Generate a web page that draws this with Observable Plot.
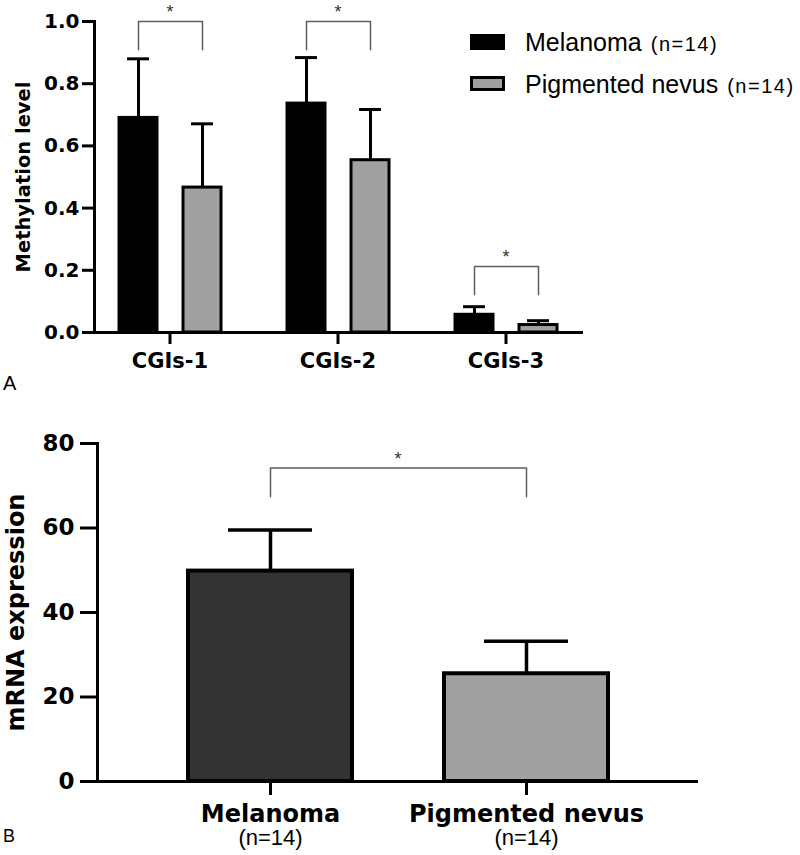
<!DOCTYPE html>
<html>
<head>
<meta charset="utf-8">
<script src="https://cdn.jsdelivr.net/npm/d3@7"></script>
<script src="https://cdn.jsdelivr.net/npm/@observablehq/plot@0.6"></script>
<style>
  html, body { margin: 0; padding: 0; background: #fff; }
  #wrap { position: relative; width: 800px; height: 855px; overflow: hidden; }
  #wrap > div > svg { display: block; }
  #overlay { position: absolute; left: 0; top: 0; pointer-events: none; }
</style>
</head>
<body>
<div id="wrap">
  <div id="panelA"></div>
  <div id="panelB"></div>
</div>
<script>
// ---------- Panel A data ----------
const catsA = ["CGIs-1", "CGIs-2", "CGIs-3"];
const seriesA = ["Melanoma", "Pigmented nevus"];
const nA = [14, 14];
const melMeanA = [0.69, 0.736, 0.057];
const melSdA = [0.19, 0.148, 0.026];
const nevMeanA = [0.466, 0.554, 0.024];
const nevSdA = [0.205, 0.163, 0.014];
const bracketTopA = [1.0, 1.0, 0.212];
const bracketBaseA = [0.909, 0.909, 0.121];
const yTicksA = [0, 0.2, 0.4, 0.6, 0.8, 1.0];

// ---------- Panel B data ----------
const namesB = ["Melanoma", "Pigmented nevus"];
const nB = [14, 14];
const meanB = [49.8, 25.5];
const sdB = [9.7, 7.7];
const bracketTopB = 74.2;
const bracketBaseB = 67.4;
const yTicksB = [0, 20, 40, 60, 80];

// ---------- tables ----------
const rowsA = catsA.flatMap((c, i) => [
  {cat: c, series: seriesA[0], mean: melMeanA[i], sd: melSdA[i]},
  {cat: c, series: seriesA[1], mean: nevMeanA[i], sd: nevSdA[i]}
]);
const bracketRowsA = catsA.map((c, i) => ({cat: c, top: bracketTopA[i], base: bracketBaseA[i]}));
const bracketPtsA = bracketRowsA.flatMap(b => [
  {cat: b.cat, series: seriesA[0], y: b.base},
  {cat: b.cat, series: seriesA[0], y: b.top},
  {cat: b.cat, series: seriesA[1], y: b.top},
  {cat: b.cat, series: seriesA[1], y: b.base}
]);

const rowsB = namesB.map((n, i) => ({name: n, mean: meanB[i], sd: sdB[i]}));
const bracketPtsB = [
  {name: namesB[0], y: bracketBaseB},
  {name: namesB[0], y: bracketTopB},
  {name: namesB[1], y: bracketTopB},
  {name: namesB[1], y: bracketBaseB}
];

const bracketColor = "#5e5e5e";

// ---------- Panel A ----------
const plotA = Plot.plot({
  width: 800,
  height: 390,
  marginLeft: 93,
  marginRight: 219,
  marginTop: 21,
  marginBottom: 58,
  style: {fontFamily: "DejaVu Sans", color: "#000", background: "transparent"},
  fx: {domain: catsA, paddingInner: 0.104, paddingOuter: 0},
  x: {domain: seriesA, paddingInner: 0.41, paddingOuter: 0.38, axis: null},
  y: {domain: [0, 1]},
  color: {domain: seriesA, range: ["#000000", "#a0a0a0"]},
  marks: [
    Plot.barY(rowsA, {fx: "cat", x: "series", y: "mean", fill: "series", stroke: "#000", strokeWidth: 3}),
    Plot.ruleX(rowsA, {fx: "cat", x: "series", y1: "mean", y2: d => d.mean + d.sd, stroke: "#000", strokeWidth: 3}),
    Plot.tickY(rowsA, {fx: "cat", x: "series", y: d => d.mean + d.sd, stroke: "#000", strokeWidth: 3, insetLeft: 8, insetRight: 8}),
    Plot.line(bracketPtsA, {fx: "cat", x: "series", y: "y", z: "cat", stroke: bracketColor, strokeWidth: 1.5}),
    Plot.text(bracketRowsA, {fx: "cat", y: "top", text: () => "*", dy: -9, fontSize: 18, fill: "#333", fontFamily: "Liberation Sans"}),
    Plot.frame({anchor: "bottom", facet: "super", stroke: "#000", strokeWidth: 3}),
    Plot.frame({anchor: "left", facet: "super", stroke: "#000", strokeWidth: 3}),
    Plot.axisY({ticks: yTicksA, tickFormat: d3.format(".1f"), tickSize: 12, tickPadding: 3, fontSize: 20, fontWeight: "bold", strokeWidth: 3, label: null}),
    Plot.axisFx({anchor: "bottom", tickSize: 12, tickPadding: 9, fontSize: 21, fontWeight: "bold", strokeWidth: 3, label: null}),
    Plot.text(["Methylation level"], {facet: "super", frameAnchor: "left", textAnchor: "middle", rotate: -90, dx: -71, fontSize: 19.5, fontWeight: "bold"})
  ]
});
document.getElementById("panelA").appendChild(plotA);

// ---------- Panel B ----------
const plotB = Plot.plot({
  width: 800,
  height: 465,
  marginLeft: 97,
  marginRight: 102,
  marginTop: 53,
  marginBottom: 74,
  style: {fontFamily: "DejaVu Sans", color: "#000", background: "transparent"},
  x: {domain: namesB, paddingInner: 0.36, paddingOuter: 0.3525},
  y: {domain: [0, 80]},
  color: {domain: namesB, range: ["#333333", "#a0a0a0"]},
  marks: [
    Plot.barY(rowsB, {x: "name", y: "mean", fill: "name", stroke: "#000", strokeWidth: 4}),
    Plot.ruleX(rowsB, {x: "name", y1: "mean", y2: d => d.mean + d.sd, stroke: "#000", strokeWidth: 3.5}),
    Plot.tickY(rowsB, {x: "name", y: d => d.mean + d.sd, stroke: "#000", strokeWidth: 3.5, insetLeft: 40, insetRight: 40}),
    Plot.line(bracketPtsB, {x: "name", y: "y", stroke: bracketColor, strokeWidth: 1.5}),
    Plot.text([bracketTopB], {y: d => d, text: () => "*", dy: -9, fontSize: 18, fill: "#333", fontFamily: "Liberation Sans"}),
    Plot.ruleY([0], {stroke: "#000", strokeWidth: 3}),
    Plot.frame({anchor: "left", stroke: "#000", strokeWidth: 3}),
    Plot.axisY({ticks: yTicksB, tickSize: 17, tickPadding: 6, fontSize: 23, fontWeight: "bold", strokeWidth: 3, label: null}),
    Plot.axisX({tickSize: 14, tickPadding: 9, fontSize: 24, fontWeight: "bold", strokeWidth: 3, label: null}),
    Plot.axisX({tickSize: 0, tickPadding: 48, fontSize: 22, fontFamily: "Liberation Sans", tickFormat: d => `(n=${nB[namesB.indexOf(d)]})`, label: null, style: {letterSpacing: "1px"}}),
    Plot.text(["mRNA expression"], {frameAnchor: "left", textAnchor: "middle", rotate: -90, dx: -81, fontSize: 24, fontWeight: "bold"})
  ]
});
document.getElementById("panelB").appendChild(plotB);

// ---------- Overlay: legend for panel A and panel letters ----------
const legendFill = ["#000000", "#a0a0a0"];
const ov = d3.select("#wrap").append("svg")
  .attr("id", "overlay")
  .attr("width", 800).attr("height", 855)
  .attr("font-family", "Liberation Sans");

const legendRows = [0, 42];
seriesA.forEach((s, i) => {
  const top = 34 + legendRows[i];
  if (i === 0) {
    ov.append("rect").attr("x", 470).attr("y", top).attr("width", 35).attr("height", 16).attr("fill", legendFill[i]);
  } else {
    ov.append("rect").attr("x", 471.5).attr("y", top + 1.5).attr("width", 32).attr("height", 12)
      .attr("fill", legendFill[i]).attr("stroke", "#000").attr("stroke-width", 3);
  }
  const t = ov.append("text").attr("x", 525).attr("y", top + 16.5).attr("font-size", 25).attr("fill", "#000");
  t.append("tspan").text(s);
  t.append("tspan").attr("dx", 9).attr("font-size", 20).attr("letter-spacing", 1.5).text(`(n=${nA[i]})`);
});

ov.append("text").attr("x", 3).attr("y", 390).attr("font-size", 20).attr("fill", "#000").text("A");
ov.append("text").attr("x", 3).attr("y", 842).attr("font-size", 18).attr("fill", "#000").text("B");
</script>
</body>
</html>
